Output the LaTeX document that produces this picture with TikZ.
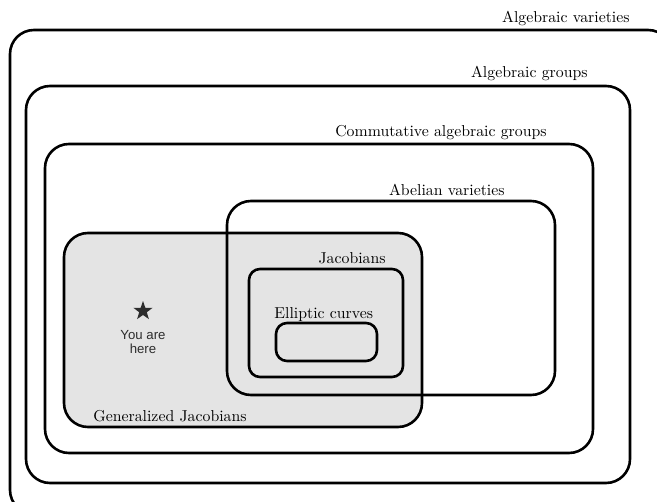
\documentclass[tikz,border=0pt]{standalone}
\usepackage{fontspec}
\newfontfamily\herefont{Liberation Sans}
\newfontfamily\labelfont{lmroman10-regular}[Extension=.otf]
\usetikzlibrary{shapes.geometric}

\definecolor{jacgray}{RGB}{228,228,228}
\definecolor{stargray}{RGB}{45,45,45}

\begin{document}
\begin{tikzpicture}[x=0.5pt,y=-0.5pt,
                    every node/.style={inner sep=0pt,font=\labelfont\fontsize{7.9}{10}\selectfont},
                    setbox/.style={draw,line width=1.3pt,rounded corners=12pt},
                    smallbox/.style={setbox,rounded corners=5.5pt}]

\useasboundingbox (0,0) rectangle (657,502);
\clip (0,0) rectangle (657,502);

% nested classes
\draw[setbox] (10,30) rectangle (672,514);
\draw[setbox] (26,86) rectangle (630,483);
\draw[setbox] (45,144) rectangle (593,453);
\draw[setbox,fill=jacgray] (64,233) rectangle (422,427);
\draw[setbox] (227,201) rectangle (555,395);
\draw[smallbox] (249,269) rectangle (403,377);
\draw[smallbox] (276,323) rectangle (377,361);

% labels
\node[anchor=base east] (varieties) at (630,23) {Algebraic varieties};
\node[anchor=base east] (groups) at (588,78) {Algebraic groups};
\node[anchor=base east] (commgroups) at (547,137) {Commutative algebraic groups};
\node[anchor=base east] (abelian) at (505,196) {Abelian varieties};
\node[anchor=base west] (genjac) at (93,421) {Generalized Jacobians};
\node[anchor=base east] (jac) at (386,263) {Jacobians};
\node[anchor=base west] (elliptic) at (274,318) {Elliptic curves};

% you are here
\node[star,star points=5,star point ratio=2.5,fill=stargray,
      minimum size=10pt] (star) at (143,311) {};
\node[align=center,text=stargray,font=\herefont\fontsize{6.6}{7.4}\selectfont]
      (here) at (143,342) {You are\\here};
\end{tikzpicture}
\end{document}
